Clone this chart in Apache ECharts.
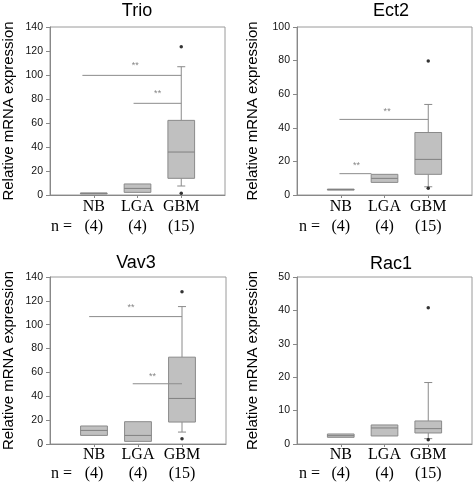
<!DOCTYPE html>
<html><head><meta charset="utf-8">
<script src="https://cdn.jsdelivr.net/npm/echarts@6/dist/echarts.min.js"></script>
<style>html,body{margin:0;padding:0;background:#fff}#c{width:475px;height:486px}</style>
</head><body><div id="c"></div>
<script>
// ---- data ----
const categories = ['NB', 'LGA', 'GBM'];
const sampleSizes = ['(4)', '(4)', '(15)'];
const genes = ['Trio', 'Ect2', 'Vav3', 'Rac1'];
const yMax = [140, 100, 140, 50];
const yInterval = [20, 20, 20, 10];
const yAxisTitle = 'Relative mRNA expression';
const nLabel = 'n =';
const starText = '**';

// box stats per category: [min, Q1, median, Q3, max]
const trioBoxes = [[0.9, 1.1, 1.4, 1.7, 1.9], [2.2, 2.2, 5.5, 9.2, 9.2], [7.5, 13.9, 35.8, 62.2, 106.9]];
const ect2Boxes = [[3.0, 3.1, 3.3, 3.5, 3.6], [7.5, 7.5, 9.9, 12.3, 12.3], [4.9, 12.3, 21.2, 37.2, 53.9]];
const vav3Boxes = [[7.2, 7.2, 11.4, 15.1, 15.1], [2.2, 2.2, 7.2, 18.7, 18.7], [10.0, 18.4, 38.2, 72.8, 115.2]];
const rac1Boxes = [[2.0, 2.0, 2.5, 3.0, 3.0], [2.4, 2.4, 4.8, 5.7, 5.7], [1.6, 3.3, 4.6, 6.9, 18.4]];

// outliers: [category, value]
const trioOutliers = [['GBM', 123.6], ['GBM', 1.4]];
const ect2Outliers = [['GBM', 79.8], ['GBM', 4.0]];
const vav3Outliers = [['GBM', 127.7], ['GBM', 4.4]];
const rac1Outliers = [['GBM', 40.8], ['GBM', 1.3]];

// significance brackets: [xStart, xEnd, y] in category-position units (NB = 1)
const trioSig = [[0.74, 3, 99.7], [1.91, 3, 76.4]];
const ect2Sig = [[0.97, 3, 45.0], [0.97, 1.7, 12.7]];
const vav3Sig = [[0.89, 3, 106.8], [1.88, 3, 50.5]];
const rac1Sig = [];
// star labels: [x, y]
const trioStars = [[1.95, 107.5], [2.46, 84.2]];
const ect2Stars = [[2.06, 49.5], [1.36, 17.4]];
const vav3Stars = [[1.84, 114.3], [2.33, 56.6]];
const rac1Stars = [];

const boxesList = [trioBoxes, ect2Boxes, vav3Boxes, rac1Boxes];
const outliersList = [trioOutliers, ect2Outliers, vav3Outliers, rac1Outliers];
const sigList = [trioSig, ect2Sig, vav3Sig, rac1Sig];
const starsList = [trioStars, ect2Stars, vav3Stars, rac1Stars];

// ---- layout ----
const grids = [
  {left: 49, top: 27, width: 176, height: 168},
  {left: 297, top: 27, width: 175, height: 168},
  {left: 49, top: 277, width: 177, height: 167},
  {left: 297, top: 277, width: 175, height: 167}
];
const nameGaps = [34, 37, 34, 37];
const titlePos = [[137, 11], [391, 11], [136, 263], [391, 264]];
const labelMargin = [2, 2, 2, 2];
const labelLH = [20, 20, 18.5, 18.5];

const SANS = '"Liberation Sans", Arial, sans-serif';
const SERIF = '"Liberation Serif", "Times New Roman", serif';
const axisCats = [''].concat(categories, ['']);

const chart = echarts.init(document.getElementById('c'), null, {renderer: 'canvas'});

function renderBox(params, api) {
  const x = api.value(0);
  const pMin = api.coord([x, api.value(1)]);
  const pQ1 = api.coord([x, api.value(2)]);
  const pMed = api.coord([x, api.value(3)]);
  const pQ3 = api.coord([x, api.value(4)]);
  const pMax = api.coord([x, api.value(5)]);
  const band = api.size([1, 0])[0];
  const bw = band * 0.61;
  const cw = bw * 0.3;
  const cx = pMed[0];
  const st = {stroke: '#8a8a8a', lineWidth: 1, fill: null};
  const ch = [];
  if (pMax[1] < pQ3[1] - 0.5) {
    ch.push({type: 'line', shape: {x1: cx, y1: pQ3[1], x2: cx, y2: pMax[1]}, style: st});
    ch.push({type: 'line', shape: {x1: cx - cw / 2, y1: pMax[1], x2: cx + cw / 2, y2: pMax[1]}, style: st});
  }
  if (pMin[1] > pQ1[1] + 0.5) {
    ch.push({type: 'line', shape: {x1: cx, y1: pQ1[1], x2: cx, y2: pMin[1]}, style: st});
    ch.push({type: 'line', shape: {x1: cx - cw / 2, y1: pMin[1], x2: cx + cw / 2, y2: pMin[1]}, style: st});
  }
  ch.push({type: 'rect', shape: {x: cx - bw / 2, y: pQ3[1], width: bw, height: Math.max(pQ1[1] - pQ3[1], 1)},
    style: {fill: '#c0c0c0', stroke: '#8a8a8a', lineWidth: 1}});
  ch.push({type: 'line', shape: {x1: cx - bw / 2, y1: pMed[1], x2: cx + bw / 2, y2: pMed[1]}, style: {stroke: '#808080', lineWidth: 1}});
  return {type: 'group', children: ch};
}

const option = {
  animation: false,
  backgroundColor: '#fff',
  grid: grids.map(g => Object.assign({show: true, borderColor: '#9a9a9a', borderWidth: 1, containLabel: false}, g)),
  xAxis: [],
  yAxis: [],
  series: [],
  graphic: []
};

genes.forEach((gene, i) => {
  option.xAxis.push({
    type: 'category', gridIndex: i, data: axisCats, boundaryGap: false,
    axisLine: {lineStyle: {color: '#888', width: 1}},
    axisTick: {show: true, length: 3, lineStyle: {color: '#888'}, interval: (idx, v) => v !== ''},
    axisLabel: {
      interval: 0, margin: labelMargin[i],
      formatter: (v) => {
        const k = categories.indexOf(v);
        if (k < 0) return '';
        return '{c|' + v + '}\n{c|' + sampleSizes[k] + '}';
      },
      rich: {c: {fontFamily: SERIF, fontSize: 16, lineHeight: labelLH[i], color: '#000'}}
    },
    splitLine: {show: false}
  });
  option.xAxis.push({type: 'value', gridIndex: i, min: 0, max: 4, show: false});
  option.yAxis.push({
    type: 'value', gridIndex: i, min: 0, max: yMax[i], interval: yInterval[i],
    name: yAxisTitle, nameLocation: 'middle', nameGap: nameGaps[i],
    nameTextStyle: {fontFamily: SANS, fontSize: 15, color: '#000'},
    axisLine: {show: true, lineStyle: {color: '#888'}},
    axisTick: {show: true, length: 4, lineStyle: {color: '#888'}},
    axisLabel: {fontFamily: SANS, fontSize: 10.5, color: '#111', margin: 7},
    splitLine: {show: false}
  });
  const xCat = i * 2, xVal = i * 2 + 1;
  option.series.push({
    type: 'custom', xAxisIndex: xCat, yAxisIndex: i,
    renderItem: renderBox,
    encode: {x: 0, y: [1, 2, 3, 4, 5]},
    data: boxesList[i].map((b, k) => [categories[k]].concat(b)),
    z: 2
  });
  option.series.push({
    type: 'scatter', xAxisIndex: xCat, yAxisIndex: i,
    data: outliersList[i], symbol: 'circle', symbolSize: 3.5,
    itemStyle: {color: '#000'}, z: 4
  });
  const lineData = [];
  sigList[i].forEach((s, k) => {
    if (k > 0) lineData.push('-');
    lineData.push([s[0], s[2]], [s[1], s[2]]);
  });
  if (lineData.length) {
    option.series.push({
      type: 'line', xAxisIndex: xVal, yAxisIndex: i, data: lineData,
      symbol: 'none', connectNulls: false,
      lineStyle: {color: '#8c8c8c', width: 1}, z: 3
    });
  }
  if (starsList[i].length) {
    option.series.push({
      type: 'scatter', xAxisIndex: xVal, yAxisIndex: i, data: starsList[i],
      symbolSize: 2, itemStyle: {color: 'rgba(0,0,0,0)'},
      label: {show: true, position: 'inside', formatter: starText, fontFamily: SANS, fontSize: 9, color: '#666'},
      z: 5
    });
  }
  option.graphic.push({
    type: 'text', x: titlePos[i][0], y: titlePos[i][1],
    style: {text: gene, fontFamily: SANS, fontSize: 18, fill: '#000', align: 'center', verticalAlign: 'middle'}
  });
  const g = grids[i];
  const nY = g.top + g.height + labelMargin[i] + labelLH[i] * 1.5;
  option.graphic.push({
    type: 'text', x: g.left + 12.5, y: nY,
    style: {text: nLabel, fontFamily: SERIF, fontSize: 16, fill: '#000', align: 'center', verticalAlign: 'middle'}
  });
});

chart.setOption(option);
</script>
</body></html>
